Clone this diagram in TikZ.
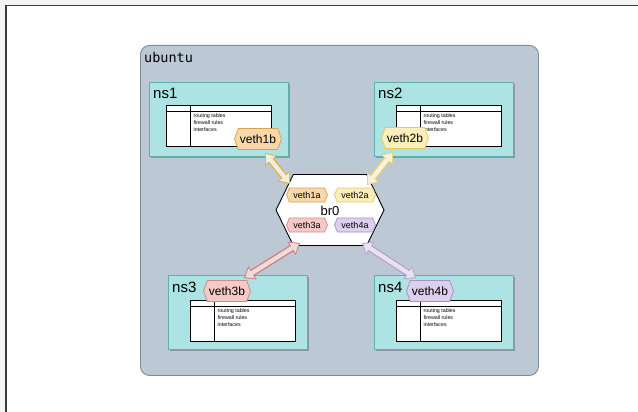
\documentclass[tikz,border=0pt]{standalone}
\usepackage{fontspec}
\setmainfont{Liberation Sans}
\newfontfamily\ubmono{DejaVu Sans Mono}
\usetikzlibrary{shapes.symbols,arrows.meta,shadows}
\definecolor{pagebg}{HTML}{F4F4F4}
\definecolor{framec}{HTML}{3A3A3A}
\definecolor{hostfill}{HTML}{BCC9D4}
\definecolor{hostline}{HTML}{7C8C9C}
\definecolor{nsfill}{HTML}{AEE3E3}
\definecolor{nsline}{HTML}{5FB0B5}
\definecolor{oF}{HTML}{F8D8A8}\definecolor{oL}{HTML}{DDA04E}\definecolor{oA}{HTML}{E0B040}\definecolor{oI}{HTML}{F2EEDC}
\definecolor{yF}{HTML}{FBEEBB}\definecolor{yL}{HTML}{E2CA6A}\definecolor{yA}{HTML}{E8D070}\definecolor{yI}{HTML}{F6F2DE}
\definecolor{rF}{HTML}{F6C8C8}\definecolor{rL}{HTML}{D48888}\definecolor{rA}{HTML}{D07A7A}\definecolor{rI}{HTML}{EEDCDC}
\definecolor{pF}{HTML}{DCD0EC}\definecolor{pL}{HTML}{A890C8}\definecolor{pA}{HTML}{B8A0D0}\definecolor{pI}{HTML}{E8E2F0}
\tikzset{
  hostbox/.style={draw=hostline, fill=hostfill, line width=0.9pt, rounded corners=9pt},
  nsbox/.style={draw=nsline, fill=nsfill, line width=0.9pt, minimum width=139pt, minimum height=74pt,
    drop shadow={shadow xshift=2pt, shadow yshift=-2pt, fill=black, opacity=0.25}},
  nslabel/.style={anchor=west, inner sep=0pt, font=\fontsize{15}{18}\selectfont},
  tablebox/.style={draw=black, fill=white, line width=0.8pt, minimum width=105pt, minimum height=41pt, inner sep=0pt},
  tableline/.style={draw=black, line width=0.8pt},
  tabletext/.style={inner sep=0pt, align=left, font=\fontsize{5.3}{7}\selectfont},
  vethb/.style={signal, signal to=west and east, signal pointer angle=140, line width=0.8pt,
    minimum width=47pt, minimum height=21pt, inner sep=0pt, font=\fontsize{12}{14}\selectfont},
  vetha/.style={signal, signal to=west and east, signal pointer angle=135, line width=0.7pt,
    minimum width=41pt, minimum height=14pt, inner sep=0pt, font=\fontsize{9}{11}\selectfont},
}
\newcommand\nstable[3]{%
  \node[tablebox, anchor=north west] (#1) at (#2,#3) {};
  \draw[tableline] ([yshift=-6.5pt]#1.north west) -- ([yshift=-6.5pt]#1.north east);
  \draw[tableline] ([xshift=24.5pt]#1.north west) -- ([xshift=24.5pt]#1.south west);
  \node[tabletext, anchor=north west] (#1txt) at ([shift={(27.5pt,-8.5pt)}]#1.north west) {routing tables\\firewall rules\\interfaces};
}
\newcommand\dblarrow[4]{% outer colour, inner colour, start, end
  \draw[draw=#1, line width=7pt, {Triangle[length=10pt,width=15pt]}-{Triangle[length=10pt,width=15pt]}] (#3) -- (#4);
  \draw[draw=#2, line width=4.4pt, shorten <=1.5pt, shorten >=1.5pt,
    {Triangle[length=7.6pt,width=11.6pt]}-{Triangle[length=7.6pt,width=11.6pt]}] (#3) -- (#4);
}
\begin{document}
\begin{tikzpicture}[x=1pt,y=-1pt]
\useasboundingbox (0,0) rectangle (638,412);
\clip (0,0) rectangle (638,412);
\fill[pagebg] (0,0) rectangle (638,412);
\draw[draw=framec, line width=1.3pt, fill=white] (6,5.5) rectangle (660,430);

% host
\node[hostbox, anchor=north west, minimum width=398pt, minimum height=330pt] (ubuntu) at (140,45) {};
\node[anchor=west, inner sep=0pt, font=\ubmono\fontsize{13.5}{16}\selectfont] (ubuntulbl) at (144,57) {ubuntu};

% namespaces
\node[nsbox, anchor=north west] (ns1) at (149,82) {};
\node[nslabel] (ns1lbl) at (153,93) {ns1};
\nstable{t1}{166}{105}

\node[nsbox, anchor=north west] (ns2) at (374,82) {};
\node[nslabel] (ns2lbl) at (378,93) {ns2};
\nstable{t2}{396}{105}

\node[nsbox, anchor=north west] (ns3) at (168,275) {};
\node[nslabel] (ns3lbl) at (172,287) {ns3};
\nstable{t3}{190}{300}

\node[nsbox, anchor=north west] (ns4) at (374,275) {};
\node[nslabel] (ns4lbl) at (378,287) {ns4};
\nstable{t4}{396}{300}

% namespace-side veths
\node[vethb, fill=oF, draw=oL] (veth1b) at (258,139) {veth1b};
\node[vethb, fill=yF, draw=yL] (veth2b) at (405,138) {veth2b};
\node[vethb, fill=rF, draw=rL] (veth3b) at (227,291) {veth3b};
\node[vethb, fill=pF, draw=pL] (veth4b) at (430,291) {veth4b};

% bridge
\node[signal, signal to=west and east, signal pointer angle=128, draw=black, fill=white, line width=0.9pt,
  minimum width=108pt, minimum height=71pt, inner sep=0pt, font=\fontsize{13}{15}\selectfont] (br0) at (330,210) {};
\node[inner sep=0pt, font=\fontsize{13}{15}\selectfont] (br0lbl) at (330,211) {br0};

% bridge-side veths
\node[vetha, fill=oF, draw=oL] (veth1a) at (307,195) {veth1a};
\node[vetha, fill=yF, draw=yL] (veth2a) at (355,195) {veth2a};
\node[vetha, fill=rF, draw=rL] (veth3a) at (307,225) {veth3a};
\node[vetha, fill=pF, draw=pL] (veth4a) at (355,225) {veth4a};

% links
\dblarrow{oA}{oI}{[shift={(7,3)}]veth1b.south}{[shift={(-17,-11)}]veth1a.center}
\dblarrow{yA}{yI}{[shift={(-12,3)}]veth2b.south}{[shift={(12,-10)}]veth2a.center}
\dblarrow{rA}{rI}{[shift={(-7,18)}]veth3a.center}{[shift={(17,-2)}]veth3b.north}
\dblarrow{pA}{pI}{[shift={(7,18)}]veth4a.center}{[shift={(-14,-2)}]veth4b.north}

\end{tikzpicture}
\end{document}
